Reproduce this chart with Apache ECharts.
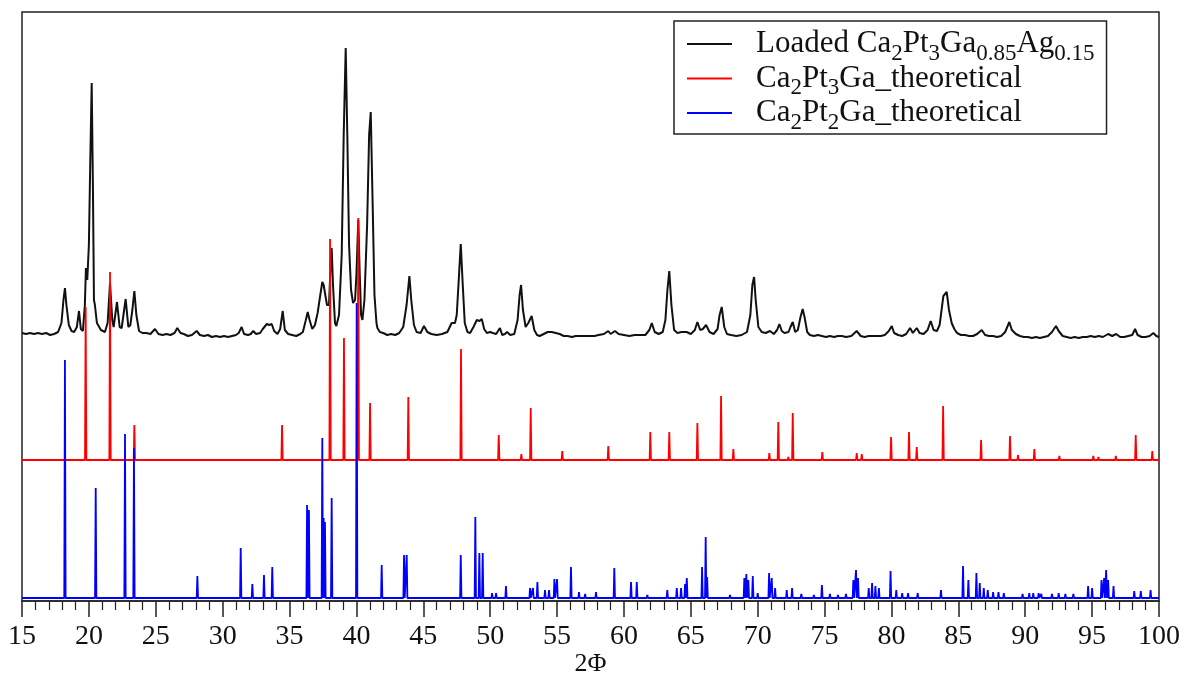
<!DOCTYPE html>
<html>
<head>
<meta charset="utf-8">
<script src="https://cdn.jsdelivr.net/npm/echarts@6/dist/echarts.min.js"></script>
<style>
html,body{margin:0;padding:0;background:#fff;}
#chart{width:1188px;height:675px;}
</style>
</head>
<body>
<div id="chart"></div>
<script>
// ---- data ----
const seriesNames = ['Loaded Ca2Pt3Ga0.85Ag0.15', 'Ca2Pt3Ga_theoretical', 'Ca2Pt2Ga_theoretical'];
const legendLabels = ['Loaded Ca{s|2}Pt{s|3}Ga{s|0.85}Ag{s|0.15}', 'Ca{s|2}Pt{s|3}Ga_theoretical', 'Ca{s|2}Pt{s|2}Ga_theoretical'];
const xMin = 15, xMax = 100, xStep = 5;
const xTickLabels = [15,20,25,30,35,40,45,50,55,60,65,70,75,80,85,90,95,100];
const axisName = '2Φ';
// vertical stacking offsets of the three patterns (intensity units)
const offsets = [266, 141, 3];

// measured pattern (2Φ, relative intensity)
const loadedPattern = [
[15.0,2],[15.3,1],[15.6,2],[15.9,1],[16.2,2],[16.5,1],[16.8,2],[17.1,0],[17.4,1],[17.7,3],[17.95,12],[18.1,35],[18.21,47],[18.32,30],[18.5,10],[18.7,4],[18.9,3],[19.1,8],[19.26,24],[19.4,6],[19.55,4],[19.7,30],[19.78,67],[19.88,55],[20.0,90],[20.1,170],[20.21,252],[20.3,150],[20.38,35],[20.45,30],[20.6,12],[20.9,5],[21.2,3],[21.4,12],[21.58,52],[21.75,15],[21.85,8],[22.1,33],[22.3,8],[22.45,7],[22.75,36],[22.95,8],[23.1,10],[23.25,25],[23.4,44],[23.55,20],[23.75,4],[24.0,2],[24.3,2],[24.6,1],[24.94,6],[25.2,1],[25.5,0],[25.8,1],[26.1,0],[26.4,2],[26.61,7],[26.85,2],[27.1,1],[27.4,-1],[27.7,0],[28.06,4],[28.3,0],[28.6,-1],[28.9,0],[29.2,-2],[29.5,-1],[29.8,-2],[30.1,-1],[30.4,-2],[30.7,-1],[31.0,0],[31.2,2],[31.42,8],[31.6,1],[31.9,0],[32.1,1],[32.29,4],[32.5,1],[32.8,2],[33.0,6],[33.3,11],[33.5,10],[33.67,11],[33.85,4],[34.1,1],[34.3,6],[34.49,24],[34.65,5],[34.9,1],[35.2,0],[35.5,-1],[35.8,1],[36.0,3],[36.2,14],[36.36,23],[36.5,15],[36.7,6],[36.9,10],[37.1,22],[37.3,40],[37.45,53],[37.55,50],[37.65,52],[37.8,30],[37.95,30],[38.07,70],[38.15,87],[38.25,50],[38.4,12],[38.5,9],[38.7,20],[38.9,80],[39.05,200],[39.2,287],[39.32,200],[39.45,90],[39.6,45],[39.75,32],[39.9,35],[40.0,60],[40.14,115],[40.25,60],[40.35,20],[40.45,15],[40.6,35],[40.8,110],[40.95,200],[41.07,223],[41.2,140],[41.35,40],[41.5,12],[41.57,7],[41.75,3],[42.0,2],[42.3,0],[42.6,1],[42.9,0],[43.2,2],[43.5,8],[43.75,30],[43.96,59],[44.1,35],[44.3,10],[44.5,3],[44.8,2],[45.05,9],[45.3,3],[45.6,1],[46.0,0],[46.4,1],[46.8,3],[47.12,12],[47.25,10],[47.37,12],[47.5,20],[47.65,55],[47.8,91],[47.95,50],[48.1,12],[48.3,3],[48.5,2],[48.75,8],[49.0,15],[49.2,14],[49.37,16],[49.55,6],[49.75,2],[50.0,3],[50.2,2],[50.45,1],[50.73,7],[50.9,0],[51.1,1],[51.26,3],[51.5,0],[51.8,1],[52.05,15],[52.2,40],[52.31,50],[52.45,25],[52.65,8],[52.85,12],[53.1,19],[53.3,5],[53.5,0],[53.7,-1],[54.0,1],[54.3,3],[54.6,3],[54.9,2],[55.2,1],[55.5,-1],[55.8,-1],[56.1,-2],[56.4,-1],[56.7,-1],[57.0,-1],[57.4,-1],[57.8,-1],[58.1,0],[58.5,1],[58.83,4],[59.0,1],[59.33,4],[59.6,1],[60.0,0],[60.4,-1],[60.8,0],[61.2,0],[61.6,0],[61.9,5],[62.08,12],[62.3,3],[62.6,1],[62.9,3],[63.1,15],[63.25,45],[63.39,64],[63.55,30],[63.75,5],[64.0,2],[64.3,3],[64.69,3],[65.0,1],[65.3,5],[65.49,13],[65.7,5],[65.9,6],[66.14,10],[66.4,3],[66.7,1],[67.0,6],[67.15,20],[67.31,28],[67.5,8],[67.7,1],[68.0,0],[68.4,-1],[68.8,0],[69.2,3],[69.45,20],[69.6,50],[69.73,58],[69.85,35],[70.05,8],[70.3,3],[70.6,2],[70.92,4],[71.2,1],[71.45,5],[71.62,11],[71.8,4],[72.0,2],[72.3,3],[72.45,8],[72.62,13],[72.8,3],[73.0,5],[73.2,18],[73.36,26],[73.5,18],[73.7,3],[73.9,0],[74.2,-1],[74.5,0],[74.8,-1],[75.1,-2],[75.4,-1],[75.7,-2],[76.0,-1],[76.3,-1],[76.6,-2],[77.0,-1],[77.4,4],[77.7,-1],[78.0,-2],[78.3,-1],[78.6,-1],[78.9,-1],[79.2,-1],[79.5,0],[79.8,4],[80.02,9],[80.2,2],[80.5,0],[80.8,-1],[81.1,1],[81.39,7],[81.6,2],[81.89,7],[82.1,2],[82.4,1],[82.7,5],[82.93,14],[83.15,5],[83.4,4],[83.6,10],[83.88,39],[84.0,38],[84.13,43],[84.3,25],[84.5,12],[84.7,6],[84.9,2],[85.2,0],[85.5,0],[85.8,-1],[86.1,-1],[86.4,1],[86.75,5],[87.0,0],[87.3,-1],[87.6,-1],[87.9,-2],[88.2,-1],[88.5,3],[88.81,13],[89.0,5],[89.3,1],[89.6,-1],[89.9,-2],[90.2,-2],[90.5,-3],[90.8,-2],[91.1,-3],[91.4,-2],[91.7,-1],[92.0,3],[92.3,9],[92.5,4],[92.8,-1],[93.1,-2],[93.4,-3],[93.7,-2],[94.0,-3],[94.3,-2],[94.6,-2],[94.9,-1],[95.2,-2],[95.5,-1],[95.8,-2],[96.2,1],[96.5,-1],[96.8,1],[97.1,-2],[97.4,-2],[97.7,-1],[98.0,0],[98.21,6],[98.4,0],[98.7,-2],[99.0,-2],[99.3,-1],[99.58,2],[99.8,-1],[100.0,-2]
];

// theoretical reflections (2Φ, relative intensity)
const ca2pt3gaPeaks = [
[19.76,153],[21.58,188],[23.40,35],[32.17,1],[34.44,35],[38.03,221],[39.07,122],[40.14,242],[41.02,57],[43.88,63],[47.82,111],[50.64,25],[52.33,6],[53.03,52],[55.39,9],[58.83,14],[61.97,28],[63.39,28],[65.49,37],[67.26,64],[68.18,11],[70.87,7],[71.54,38],[72.29,3],[72.62,47],[74.83,8],[77.40,7],[77.78,6],[79.97,23],[81.31,28],[81.89,13],[83.86,54],[86.70,20],[88.86,24],[89.46,5],[90.11,2],[90.68,11],[92.55,4],[94.22,1],[95.09,4],[95.47,3],[96.77,4],[97.71,1],[98.26,25],[99.50,9]
];
const ca2pt2gaPeaks = [
[18.21,238],[20.51,110],[22.70,164],[23.37,150],[28.11,22],[31.35,50],[32.22,14],[33.09,23],[33.71,31],[36.31,93],[36.45,88],[37.45,160],[37.55,80],[37.65,76],[38.15,100],[40.02,295],[41.89,33],[43.56,43],[43.76,43],[47.80,43],[48.89,81],[49.19,45],[49.44,45],[50.14,5],[50.44,5],[51.18,12],[52.98,10],[53.20,10],[53.53,16],[54.10,8],[54.40,8],[54.80,19],[55.00,19],[56.04,31],[56.64,6],[57.10,4],[57.91,6],[59.28,30],[60.53,16],[60.96,16],[61.75,3],[63.24,8],[63.95,10],[64.27,10],[64.57,14],[64.70,20],[65.84,31],[66.11,61],[66.22,21],[67.93,3],[69.00,20],[69.15,24],[69.30,18],[69.63,22],[70.00,5],[70.85,25],[71.05,20],[71.30,10],[72.17,8],[72.57,10],[73.26,4],[74.20,3],[74.80,13],[75.40,4],[76.00,3],[76.60,4],[77.15,18],[77.35,28],[77.50,20],[78.30,10],[78.55,15],[78.80,12],[79.06,10],[79.93,27],[80.36,8],[80.80,5],[81.24,5],[81.96,5],[83.70,8],[85.35,32],[85.75,18],[86.35,25],[86.60,15],[86.90,10],[87.20,8],[87.60,6],[88.00,6],[88.40,5],[89.80,4],[90.30,5],[90.60,5],[91.00,5],[91.20,4],[92.00,4],[92.50,5],[93.00,4],[93.60,4],[94.70,12],[95.00,10],[95.70,18],[95.90,20],[96.05,28],[96.20,18],[96.60,12],[98.15,7],[98.64,7],[99.37,8]
];
const colors = ['#111111', '#ff0000', '#0000ff'];

// ---- build series data ----
function offsetPattern(pts, off) {
  return pts.map(p => [p[0], p[1] + off]);
}
function stickPattern(peaks, off) {
  const hw = 0.05;
  const out = [[xMin, off]];
  peaks.forEach(p => {
    out.push([p[0] - hw, off]);
    out.push([p[0], p[1] + off]);
    out.push([p[0] + hw, off]);
  });
  out.push([xMax, off]);
  return out;
}
const seriesData = [
  offsetPattern(loadedPattern, offsets[0]),
  stickPattern(ca2pt3gaPeaks, offsets[1]),
  stickPattern(ca2pt2gaPeaks, offsets[2])
];

const FONT = "'Liberation Serif', 'DejaVu Serif', serif";
const chart = echarts.init(document.getElementById('chart'), null, {renderer: 'canvas'});
const legendMap = {};
seriesNames.forEach((n, i) => legendMap[n] = legendLabels[i]);

chart.setOption({
  animation: false,
  backgroundColor: '#ffffff',
  grid: {
    left: 22, right: 29, top: 12, bottom: 74,
    outerBoundsMode: 'none',
    containLabel: false,
    show: true, borderColor: '#222', borderWidth: 1.5, backgroundColor: 'transparent'
  },
  legend: {
    data: seriesNames,
    orient: 'vertical',
    left: 674, top: 21,
    padding: [2, 12, 0, 13],
    itemGap: -7.5,
    itemWidth: 45, itemHeight: 2,
    icon: 'rect',
    borderColor: '#222', borderWidth: 1.5,
    formatter: n => legendMap[n],
    textStyle: {
      fontFamily: FONT, fontSize: 31, color: '#111', lineHeight: 42,
      padding: [0, 0, 0, 19],
      rich: {
        s: { fontFamily: FONT, fontSize: 23, color: '#111', verticalAlign: 'bottom' }
      }
    }
  },
  xAxis: {
    type: 'value', min: xMin, max: xMax, interval: xStep,
    name: axisName, nameLocation: 'middle', nameGap: 50, nameMoveOverlap: false,
    nameTextStyle: { fontFamily: FONT, fontSize: 26, color: '#111' },
    axisLine: { show: true, lineStyle: { color: '#222', width: 1.5 } },
    axisTick: { show: true, length: 16, lineStyle: { color: '#222', width: 1.5 } },
    minorTick: { show: true, splitNumber: 5, length: 9, lineStyle: { color: '#222', width: 1.2 } },
    splitLine: { show: false },
    axisLabel: {
      fontFamily: FONT, fontSize: 28, color: '#111', margin: 22,
      formatter: v => { const i = xTickLabels.indexOf(v); return i >= 0 ? String(xTickLabels[i]) : ''; }
    }
  },
  yAxis: {
    type: 'value', min: 0, max: 589, show: false
  },
  series: seriesNames.map((n, i) => ({
    name: n,
    type: 'line',
    data: seriesData[i],
    symbol: 'none',
    showSymbol: false,
    color: colors[i],
    lineStyle: { color: colors[i], width: i === 0 ? 2 : 1.8 },
    sampling: null,
    z: 2 + i
  }))
});
</script>
</body>
</html>
